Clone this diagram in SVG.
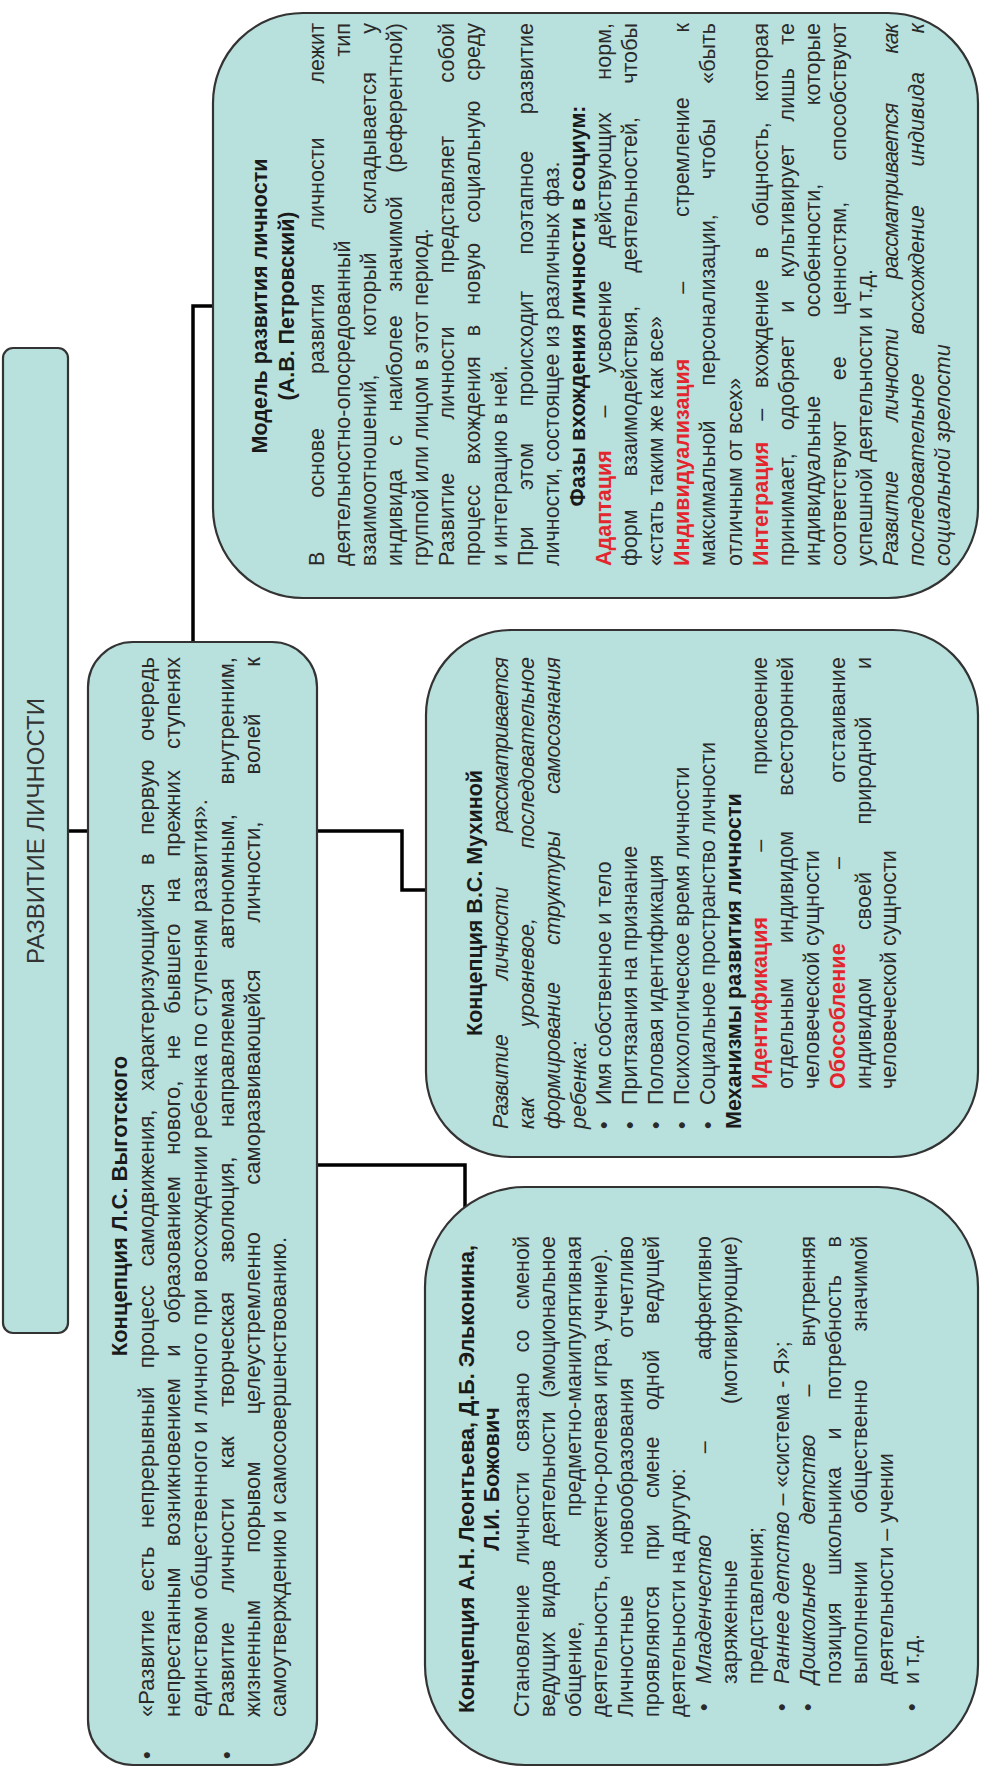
<svg xmlns="http://www.w3.org/2000/svg" width="982" height="1771" viewBox="0 0 982 1771">
<style>
.box{fill:#b8e0dc;stroke:#333;stroke-width:2.2}
.conn{fill:none;stroke:#000;stroke-width:3.5}
text{font-family:"Liberation Sans",Arial,sans-serif;fill:#2a2a2a;font-size:21.5px}
.v{font-size:22px}
.h{font-weight:bold;fill:#1a1a1a}
.c{text-anchor:middle}
.i{font-style:italic}
.r{fill:#e3262e;font-weight:bold}
.t{font-size:24px;fill:#333}
</style>
<rect width="982" height="1771" fill="#fff"/>
<g transform="matrix(0 -1 1 0 0 1771)">
<g id="connectors">
<path class="conn" d="M940,66 V90"/>
<path class="conn" d="M1129,193 H1465 V215"/>
<path class="conn" d="M940,315 V402 H881 V428"/>
<path class="conn" d="M606,315 V465 H562"/>
</g>
<g id="title">
<rect class="box" x="438" y="3" width="985" height="65" rx="10"/>
<text x="940" y="44" class="t c">РАЗВИТИЕ ЛИЧНОСТИ</text>
</g>
<g id="vygotsky">
<rect class="box" x="6" y="88" width="1123" height="229" rx="45"/>
<text x="565" y="127" class="v h c">Концепция Л.С. Выготского</text>
<text x="12" y="154" class="v">•</text>
<text x="54" y="154" class="v" word-spacing="12.3px" textLength="1060" lengthAdjust="spacing">«Развитие есть непрерывный процесс самодвижения, характеризующийся в первую очередь</text>
<text x="54" y="180" class="v" word-spacing="15px" textLength="1060" lengthAdjust="spacing">непрестанным возникновением и образованием нового, не бывшего на прежних ступенях</text>
<text x="54" y="207" class="v" textLength="918" lengthAdjust="spacing">единством общественного и личного при восхождении ребенка по ступеням развития».</text>
<text x="12" y="234" class="v">•</text>
<text x="54" y="234" class="v" word-spacing="23.4px" textLength="1060" lengthAdjust="spacing">Развитие личности как творческая зволюция, направляемая автономным, внутренним,</text>
<text x="54" y="260" class="v" word-spacing="40.9px" textLength="1060" lengthAdjust="spacing">жизненным порывом целеустремленно саморазвивающейся личности, волей к</text>
<text x="54" y="286" class="v">самоутверждению и самосовершенствованию.</text>
</g>
<g id="petrovsky">
<rect class="box" x="1173" y="213" width="585" height="765" rx="90"/>
<text x="1465" y="267" class="h c">Модель развития личности</text>
<text x="1465" y="294" class="h c">(А.В. Петровский)</text>
<text x="1205" y="324" word-spacing="48px" textLength="543" lengthAdjust="spacing">В основе развития личности лежит</text>
<text x="1205" y="350" word-spacing="178px" textLength="543" lengthAdjust="spacing">деятельностно-опосредованный тип</text>
<text x="1205" y="376" word-spacing="32px" textLength="543" lengthAdjust="spacing">взаимоотношений, который складывается у</text>
<text x="1205" y="402" word-spacing="17.5px" textLength="543" lengthAdjust="spacing">индивида с наиболее значимой (референтной)</text>
<text x="1205" y="428">группой или лицом в этот период.</text>
<text x="1205" y="454" word-spacing="47px" textLength="543" lengthAdjust="spacing">Развитие личности представляет собой</text>
<text x="1205" y="480" word-spacing="14px" textLength="543" lengthAdjust="spacing">процесс вхождения в новую социальную среду</text>
<text x="1205" y="507">и интеграцию в ней.</text>
<text x="1205" y="533" word-spacing="30.5px" textLength="543" lengthAdjust="spacing">При этом происходит поэтапное развитие</text>
<text x="1205" y="559">личности, состоящее из различных фаз.</text>
<text x="1465" y="585" class="h c">Фазы вхождения личности в социум:</text>
<text x="1205" y="611" word-spacing="26.5px" textLength="543" lengthAdjust="spacing"><tspan class="r">Адаптация</tspan> – усвоение действующих норм,</text>
<text x="1205" y="637" word-spacing="27px" textLength="543" lengthAdjust="spacing">форм взаимодействия, деятельностей, чтобы</text>
<text x="1205" y="663">«стать таким же как все»</text>
<text x="1205" y="689" word-spacing="59px" textLength="543" lengthAdjust="spacing"><tspan class="r">Индивидуализация</tspan> – стремление к</text>
<text x="1205" y="715" word-spacing="29px" textLength="543" lengthAdjust="spacing">максимальной персонализации, чтобы «быть</text>
<text x="1205" y="742">отличным от всех»</text>
<text x="1205" y="768" word-spacing="14.8px" textLength="543" lengthAdjust="spacing"><tspan class="r">Интеграция</tspan> – вхождение в общность, которая</text>
<text x="1205" y="794" word-spacing="16.9px" textLength="543" lengthAdjust="spacing">принимает, одобряет и культивирует лишь те</text>
<text x="1205" y="820" word-spacing="72.6px" textLength="543" lengthAdjust="spacing">индивидуальные особенности, которые</text>
<text x="1205" y="846" word-spacing="35px" textLength="543" lengthAdjust="spacing">соответствуют ее ценностям, способствуют</text>
<text x="1205" y="872">успешной деятельности и т.д.</text>
<text x="1205" y="898" class="i" word-spacing="45px" textLength="543" lengthAdjust="spacing">Развитие личности рассматривается как</text>
<text x="1205" y="924" class="i" word-spacing="33px" textLength="543" lengthAdjust="spacing">последовательное восхождение индивида к</text>
<text x="1205" y="950" class="i">социальной зрелости</text>
</g>
<g id="mukhina">
<rect class="box" x="614" y="426" width="527" height="552" rx="85"/>
<text x="868" y="482" class="h c">Концепция В.С. Мухиной</text>
<text x="642" y="508" class="i" word-spacing="50px" textLength="472" lengthAdjust="spacing">Развитие личности рассматривается</text>
<text x="642" y="534" class="i" word-spacing="64px" textLength="472" lengthAdjust="spacing">как уровневое, последовательное</text>
<text x="642" y="560" class="i" word-spacing="32px" textLength="472" lengthAdjust="spacing">формирование структуры самосознания</text>
<text x="642" y="586" class="i">ребенка:</text>
<text x="642" y="611">•</text>
<text x="666" y="611">Имя собственное и тело</text>
<text x="642" y="637">•</text>
<text x="666" y="637">Притязания на признание</text>
<text x="642" y="663">•</text>
<text x="666" y="663">Половая идентификация</text>
<text x="642" y="689">•</text>
<text x="666" y="689">Психологическое время личности</text>
<text x="642" y="715">•</text>
<text x="666" y="715">Социальное пространство личности</text>
<text x="642" y="741" class="h">Механизмы развития личности</text>
<text x="682" y="767" word-spacing="59px" textLength="432" lengthAdjust="spacing"><tspan class="r">Идентификация</tspan> – присвоение</text>
<text x="682" y="793" word-spacing="29px" textLength="432" lengthAdjust="spacing">отдельным индивидом всесторонней</text>
<text x="682" y="819">человеческой сущности</text>
<text x="682" y="845" word-spacing="68px" textLength="432" lengthAdjust="spacing"><tspan class="r">Обособление</tspan> – отстаивание</text>
<text x="682" y="871" word-spacing="41.6px" textLength="432" lengthAdjust="spacing">индивидом своей природной и</text>
<text x="682" y="896">человеческой сущности</text>
</g>
<g id="leontiev">
<rect class="box" x="6" y="425" width="578" height="553" rx="100"/>
<text x="292" y="474" class="h c">Концепция А.Н. Леонтьева, Д.Б. Эльконина,</text>
<text x="292" y="499" class="h c">Л.И. Божович</text>
<text x="54" y="529" word-spacing="14px" textLength="481" lengthAdjust="spacing">Становление личности связано со сменой</text>
<text x="54" y="555" word-spacing="8px" textLength="481" lengthAdjust="spacing">ведущих видов деятельности (эмоциональное</text>
<text x="54" y="581" word-spacing="99px" textLength="481" lengthAdjust="spacing">общение, предметно-манипулятивная</text>
<text x="54" y="607">деятельность, сюжетно-ролевая игра, учение).</text>
<text x="54" y="633" word-spacing="34px" textLength="481" lengthAdjust="spacing">Личностные новообразования отчетливо</text>
<text x="54" y="659" word-spacing="20px" textLength="481" lengthAdjust="spacing">проявляются при смене одной ведущей</text>
<text x="54" y="685">деятельности на другую:</text>
<text x="60" y="711">•</text>
<text x="87" y="711" word-spacing="76px" textLength="448" lengthAdjust="spacing"><tspan class="i">Младенчество</tspan> – аффективно</text>
<text x="87" y="737" word-spacing="150px" textLength="448" lengthAdjust="spacing">заряженные (мотивирующие)</text>
<text x="87" y="763">представления;</text>
<text x="60" y="789">•</text>
<text x="87" y="789"><tspan class="i">Раннее детство</tspan> – «система - Я»;</text>
<text x="60" y="815">•</text>
<text x="87" y="815" word-spacing="33px" textLength="448" lengthAdjust="spacing"><tspan class="i">Дошкольное детство</tspan> – внутренняя</text>
<text x="87" y="841" word-spacing="21.6px" textLength="448" lengthAdjust="spacing">позиция школьника и потребность в</text>
<text x="87" y="867" word-spacing="42px" textLength="448" lengthAdjust="spacing">выполнении общественно значимой</text>
<text x="87" y="893">деятельности – учении</text>
<text x="60" y="919">•</text>
<text x="87" y="919">и т.д.</text>
</g>
</g>
</svg>
